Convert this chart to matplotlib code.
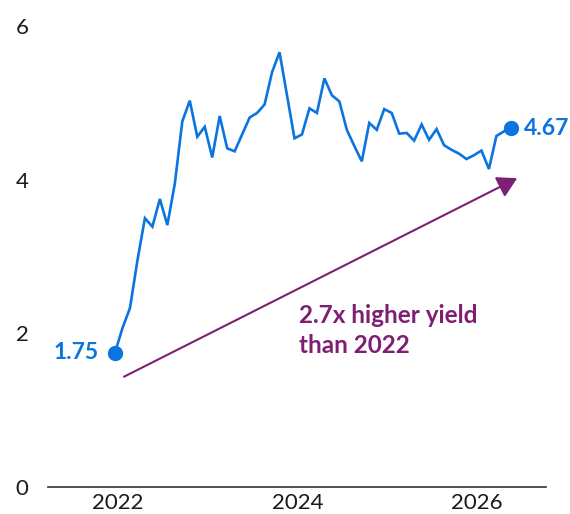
import matplotlib.pyplot as plt
import numpy as np

# monthly yield values, Dec 2021 .. May 2026
yields = [1.75, 2.07, 2.33, 2.95, 3.50, 3.39, 3.75, 3.41, 3.95, 4.76,
          5.03, 4.56, 4.69, 4.29, 4.83, 4.41, 4.37, 4.59, 4.81, 4.87,
          4.98, 5.40, 5.66, 5.10, 4.54, 4.59, 4.93, 4.87, 5.32, 5.10,
          5.02, 4.65, 4.44, 4.24, 4.74, 4.65, 4.92, 4.87, 4.60, 4.61,
          4.51, 4.72, 4.52, 4.66, 4.45, 4.39, 4.34, 4.27, 4.32, 4.38,
          4.14, 4.57, 4.63, 4.67]
start_year = 2021 + 11.6 / 12
x_ticks = [2022, 2024, 2026]
y_ticks = [0, 2, 4, 6]
note = "2.7x higher yield\nthan 2022"

BLUE = "#0B74E0"
PURPLE = "#7D1F72"

x = start_year + np.arange(len(yields)) / 12

fig = plt.figure(figsize=(5.7, 5.14), dpi=100)
ax = fig.add_axes([0.0842, 0.0525, 0.8738, 0.9265])

ax.plot(x, yields, color=BLUE, lw=1.9, solid_joinstyle="miter")
ax.plot([x[0], x[-1]], [yields[0], yields[-1]], "o", color=BLUE, ms=10)

ax.annotate(f"{yields[0]:.2f}", (x[0], yields[0]), xytext=(-12, 0),
            textcoords="offset points", ha="right", va="center",
            color=BLUE, fontsize=16.5, fontfamily="Lato", fontweight="bold")
ax.annotate(f"{yields[-1]:.2f}", (x[-1], yields[-1]), xytext=(9, 0),
            textcoords="offset points", ha="left", va="center",
            color=BLUE, fontsize=16.5, fontfamily="Lato", fontweight="bold")

# growth arrow
ax.annotate("", xy=(2026.448, 4.02), xytext=(2022.067, 1.436),
            arrowprops=dict(arrowstyle="-|>,head_length=0.7,head_width=0.4",
                            mutation_scale=17, color=PURPLE, lw=1.5,
                            shrinkA=0, shrinkB=0))
ax.text(2024.02, 2.38, note, ha="left", va="top", color=PURPLE,
        fontsize=17.5, fontfamily="Lato", fontweight="bold", linespacing=1.35)

ax.set_xlim(2021.22, 2026.77)
ax.set_ylim(0, 6.2)
ax.set_xticks(x_ticks)
ax.set_xticklabels([str(t) for t in x_ticks])
ax.set_yticks(y_ticks)
ax.tick_params(axis="both", length=0, labelsize=16, labelcolor="#1a1a1a")
ax.tick_params(axis="y", pad=14)
ax.tick_params(axis="x", pad=4)
for lab in ax.get_xticklabels() + ax.get_yticklabels():
    lab.set_fontfamily("Lato")

for side in ["top", "right", "left"]:
    ax.spines[side].set_visible(False)
ax.spines["bottom"].set_color("#333333")
ax.spines["bottom"].set_linewidth(1.2)

fig.savefig("out.png", dpi=100)
